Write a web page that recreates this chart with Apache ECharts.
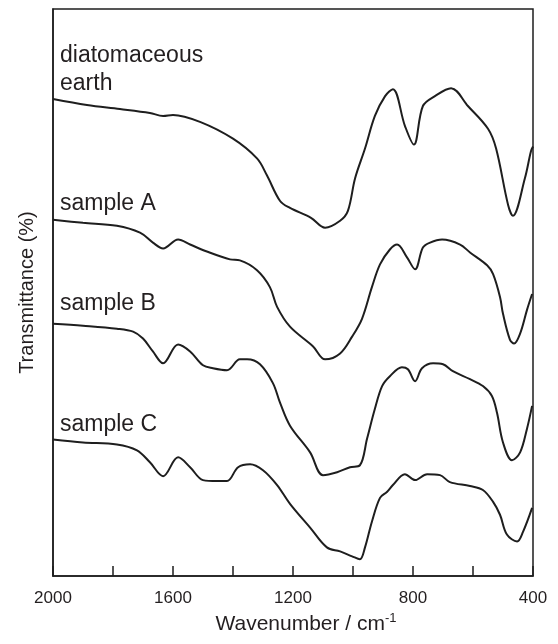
<!DOCTYPE html>
<html>
<head>
<meta charset="utf-8">
<script src="https://cdn.jsdelivr.net/npm/echarts@6/dist/echarts.min.js"></script>
<style>
html,body{margin:0;padding:0;background:#fff;}
#chart{width:558px;height:644px;}
</style>
</head>
<body>
<div id="chart"></div>
<script>
// Wavenumber (cm-1) and transmittance (arbitrary offset units)
var diatomWn = [2000,1887,1777,1677,1633,1600,1510,1400,1320,1287,1243,1210,1140,1093,1043,1017,993,960,927,893,867,827,797,767,727,673,617,550,523,483,467,427,407,400];
var diatomT  = [482,476,472,468,465,466,459,442,422,405,379,372,362,352,359,369,402,432,465,485,492,455,436,475,485,493,475,452,432,375,364,402,429,434];

var sampleAWn = [2000,1900,1787,1710,1667,1633,1583,1543,1487,1410,1377,1320,1277,1253,1210,1133,1093,1043,1003,970,937,910,877,853,820,793,767,743,703,643,610,553,533,510,500,477,463,443,420,403];
var sampleAT  = [360,357,354,347,337,331,340,335,328,320,319,309,292,272,252,232,219,225,242,260,292,315,330,335,322,310,332,337,340,335,327,314,305,282,265,239,235,245,269,285];

var sampleBWn = [2000,1900,1787,1733,1700,1667,1633,1583,1543,1500,1467,1420,1377,1353,1310,1267,1243,1210,1143,1100,1053,1010,977,953,927,903,877,837,817,793,770,733,700,667,610,567,537,520,500,470,443,420,403];
var sampleBT  = [255,253,250,247,240,227,215,234,227,213,210,208,219,219,214,195,175,152,125,102,105,110,112,139,169,192,202,211,209,197,210,215,214,207,199,192,182,165,135,117,125,149,172];

var sampleCWn = [2000,1900,1787,1720,1677,1633,1583,1543,1500,1453,1420,1383,1343,1300,1253,1210,1143,1087,1043,1003,977,960,937,910,887,867,827,793,753,710,677,610,567,533,510,487,453,433,403];
var sampleCT  = [138,135,133,127,115,101,120,110,97,96,96,110,113,107,92,73,49,29,25,20,17,29,55,79,85,92,103,97,103,102,95,91,87,75,62,42,35,45,69];

var seriesNames = ['diatomaceous earth','sample A','sample B','sample C'];
var xMin = 400, xMax = 2000, xStep = 200, xLabelStep = 400;

function zip(xs, ys){ return xs.map(function(x,i){ return [x, ys[i]]; }); }

var chart = echarts.init(document.getElementById('chart'), null, {renderer:'canvas'});
var lineColor = '#1e1e1e';
var textColor = '#231f20';
var fontFam = '"Liberation Sans", Arial, Helvetica, sans-serif';

function mkSeries(name, xs, ys){
  return {
    name: name, type: 'line', data: zip(xs, ys),
    showSymbol: false, smooth: 0.35,
    lineStyle: {color: lineColor, width: 2},
    emphasis: {disabled: true}, silent: true
  };
}

function label(text, x, y){
  return {type:'text', x:x, y:y, style:{text:text, fill:textColor, font:'23px ' + fontFam, textVerticalAlign:'middle'}};
}

chart.setOption({
  animation: false,
  backgroundColor: '#fff',
  grid: {left: 53, right: 25, top: 9, bottom: 62, show: true, borderColor: '#1e1e1e', borderWidth: 1.5},
  xAxis: {
    type: 'value', inverse: true, min: xMin, max: xMax, interval: xStep,
    axisLine: {show: true, onZero: false, lineStyle: {color: '#1e1e1e', width: 1.5}},
    axisTick: {show: true, inside: true, length: 10, lineStyle: {color: '#1e1e1e', width: 1.5}},
    splitLine: {show: false},
    axisLabel: {
      margin: 14, color: textColor, fontSize: 17, fontFamily: fontFam,
      formatter: function(v){ return (v % xLabelStep === 0) ? String(v) : ''; }
    },
    name: '{a|Wavenumber / cm}{s|-1}',
    nameLocation: 'middle', nameGap: 33,
    nameTextStyle: {
      padding: [0,0,0,26],
      rich: {
        a: {fontSize: 21, fontFamily: fontFam, color: textColor, lineHeight: 24},
        s: {fontSize: 13, fontFamily: fontFam, color: textColor, verticalAlign: 'top', lineHeight: 24, padding:[0,0,14,0]}
      }
    }
  },
  yAxis: {
    type: 'value', min: 0, max: 573,
    axisLine: {show: true, lineStyle: {color: '#1e1e1e', width: 1.5}},
    axisTick: {show: false}, axisLabel: {show: false}, splitLine: {show: false},
    name: 'Transmittance (%)', nameLocation: 'middle', nameGap: 16,
    nameTextStyle: {fontSize: 20, fontFamily: fontFam, color: textColor}
  },
  series: [
    mkSeries(seriesNames[0], diatomWn, diatomT),
    mkSeries(seriesNames[1], sampleAWn, sampleAT),
    mkSeries(seriesNames[2], sampleBWn, sampleBT),
    mkSeries(seriesNames[3], sampleCWn, sampleCT)
  ],
  graphic: [
    label('diatomaceous', 60, 56),
    label('earth', 60, 84),
    label(seriesNames[1], 60, 204),
    label(seriesNames[2], 60, 304),
    label(seriesNames[3], 60, 425)
  ]
});
</script>
</body>
</html>
